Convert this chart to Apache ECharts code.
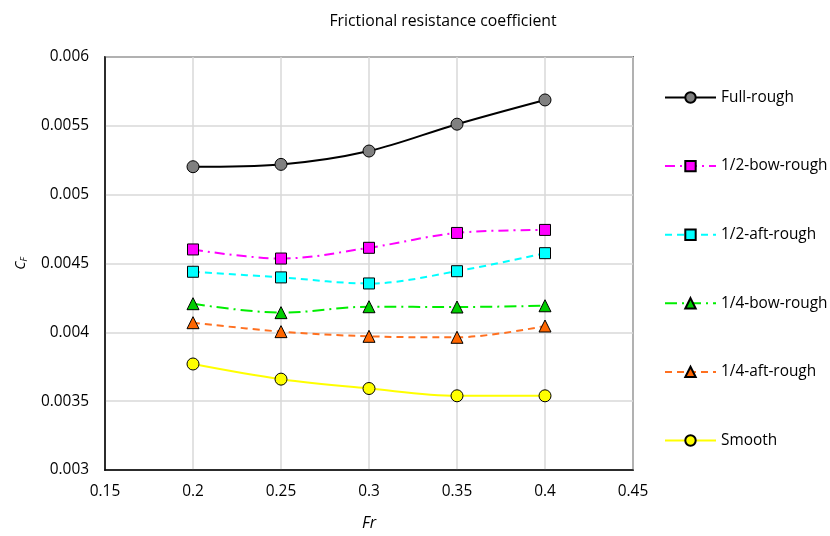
<!DOCTYPE html>
<html><head><meta charset="utf-8">
<script src="https://cdn.jsdelivr.net/npm/echarts@6/dist/echarts.min.js"></script>
<style>html,body{margin:0;padding:0;background:#fff}#c{width:830px;height:536px}</style>
</head><body><div id="c"></div>
<script>
const fr = [0.2, 0.25, 0.3, 0.35, 0.4];
const fullRough = [0.005203, 0.00522, 0.005317, 0.005512, 0.005688];
const halfBowRough = [0.004602, 0.004536, 0.004614, 0.004722, 0.004744];
const halfAftRough = [0.00444, 0.004399, 0.004355, 0.004444, 0.004575];
const quarterBowRough = [0.004208, 0.004143, 0.004186, 0.004184, 0.004193];
const quarterAftRough = [0.00407, 0.004005, 0.003971, 0.003964, 0.004046];
const smooth = [0.00377, 0.00366, 0.003592, 0.003539, 0.003539];

const FONT = '"Open Sans", "Noto Sans", sans-serif';
function pairs(v){ return fr.map((x,i)=>[x,v[i]]); }
function mk(name, vals, lineColor, fill, symbol, size, dash){
  return {
    name, type:'line', data:pairs(vals), smooth:0.35,
    symbol, symbolSize:size,
    lineStyle:{color:lineColor, width:2, type:dash},
    itemStyle:{color:fill, borderColor:'#000', borderWidth:1},
    emphasis:{disabled:true}
  };
}
const chart = echarts.init(document.getElementById('c'), null, {renderer:'canvas'});
chart.setOption({
  animation:false,
  backgroundColor:'#fff',
  title:{text:'Frictional resistance coefficient', left:438, top:8, textAlign:'center',
    textStyle:{fontFamily:FONT, fontSize:15.8, fontWeight:'normal', color:'#000'}},
  grid:{left:105, right:197, top:57, bottom:65, show:true, borderColor:'#000', borderWidth:1.5},
  legend:{orient:'vertical', left:664, top:90, padding:0, itemWidth:51, itemHeight:13, itemGap:53.6,
    textStyle:{fontFamily:FONT, fontSize:15.4, color:'#000'},
    data:['Full-rough','1/2-bow-rough','1/2-aft-rough','1/4-bow-rough','1/4-aft-rough','Smooth']},
  xAxis:{type:'value', min:0.15, max:0.45, interval:0.05,
    name:'Fr', nameLocation:'middle', nameGap:45,
    nameTextStyle:{fontFamily:FONT, fontSize:16, fontStyle:'italic', color:'#000'},
    axisLine:{show:true, lineStyle:{color:'#000', width:1.5}},
    axisTick:{show:false},
    axisLabel:{fontFamily:FONT, fontSize:15.4, color:'#000', margin:14},
    splitLine:{show:true, lineStyle:{color:'#d9d9d9', width:1.5}}},
  yAxis:{type:'value', min:0.003, max:0.006, interval:0.0005,
    name:'{c|C}{f|F}', nameLocation:'middle', nameGap:76, nameRotate:90,
    nameTextStyle:{rich:{
      c:{fontFamily:FONT, fontSize:14, fontStyle:'italic', color:'#000'},
      f:{fontFamily:FONT, fontSize:9, fontStyle:'italic', color:'#000', verticalAlign:'bottom', padding:[6,0,0,0]}}},
    axisLine:{show:true, lineStyle:{color:'#000', width:1.5}},
    axisTick:{show:false},
    axisLabel:{fontFamily:FONT, fontSize:15.4, color:'#000', margin:16},
    splitLine:{show:true, lineStyle:{color:'#d9d9d9', width:1.5}}},
  series:[
    mk('Full-rough', fullRough, '#000000', '#808080', 'circle', 12, 'solid'),
    mk('1/2-bow-rough', halfBowRough, '#ff00ff', '#ff00ff', 'rect', 11, [10,5,2,5]),
    mk('1/2-aft-rough', halfAftRough, '#00ffff', '#00ffff', 'rect', 11, [7,5]),
    mk('1/4-bow-rough', quarterBowRough, '#00ee00', '#00cc00', 'triangle', 12, [12,5,2,5]),
    mk('1/4-aft-rough', quarterAftRough, '#ff7020', '#ff6600', 'triangle', 12, [7,5]),
    mk('Smooth', smooth, '#ffff00', '#ffff00', 'circle', 12, 'solid')
  ]
});
</script></body></html>
